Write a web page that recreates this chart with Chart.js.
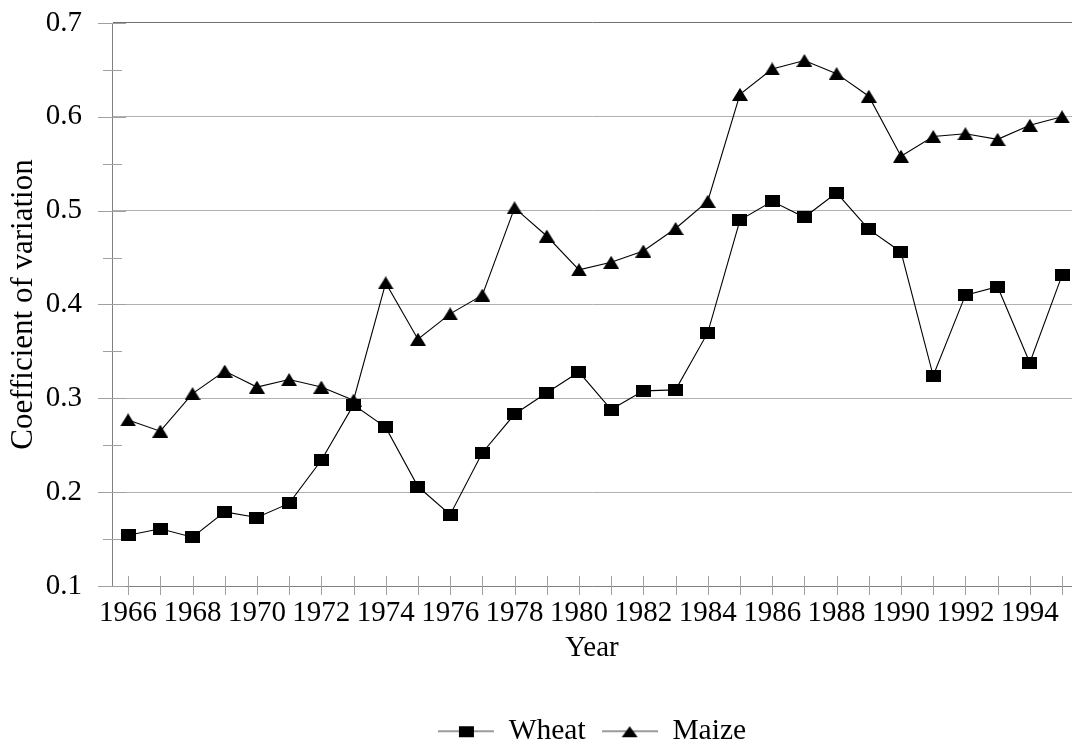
<!DOCTYPE html>
<html>
<head>
<meta charset="utf-8">
<script src="https://cdn.jsdelivr.net/npm/chart.js@4.4.1/dist/chart.umd.min.js"></script>
<style>
  html, body { margin: 0; padding: 0; background: #fff; overflow: hidden; }
  #wrap { position: relative; width: 1072px; height: 747px; }
</style>
</head>
<body>
<div id="wrap"><canvas id="c"></canvas></div>
<script>
const years = [1966,1967,1968,1969,1970,1971,1972,1973,1974,1975,1976,1977,1978,1979,1980,
               1981,1982,1983,1984,1985,1986,1987,1988,1989,1990,1991,1992,1993,1994,1995];
const wheat = [0.154,0.161,0.152,0.179,0.173,0.188,0.234,0.293,0.269,0.206,0.176,0.242,0.283,0.306,0.328,
               0.288,0.308,0.309,0.370,0.490,0.510,0.493,0.519,0.480,0.456,0.324,0.410,0.419,0.338,0.431];
const maize = [0.277,0.265,0.305,0.329,0.312,0.320,0.312,0.298,0.423,0.363,0.390,0.410,0.503,0.473,0.437,
               0.445,0.457,0.481,0.510,0.624,0.651,0.660,0.646,0.622,0.558,0.579,0.582,0.576,0.591,0.600];
const yTickLabels = ['0.1','0.2','0.3','0.4','0.5','0.6','0.7'];
const seriesNames = ['Wheat', 'Maize'];

const FONT = 'Liberation Serif, Times New Roman, serif';

function markerCanvas(kind) {
  const c = document.createElement('canvas');
  if (kind === 'square') { c.width = 15; c.height = 12; }
  else { c.width = 16; c.height = 13; }
  const g = c.getContext('2d');
  g.fillStyle = '#000';
  if (kind === 'square') {
    g.fillRect(0, 0, 15, 12);
  } else {
    g.beginPath(); g.moveTo(0, 13); g.lineTo(8, 0); g.lineTo(16, 13); g.closePath(); g.fill();
  }
  return c;
}
function legendCanvas(kind) {
  const c = document.createElement('canvas');
  c.width = 56; c.height = 16;
  const g = c.getContext('2d');
  g.strokeStyle = '#7a7a7a'; g.lineWidth = 1.5;
  g.beginPath(); g.moveTo(0, 8); g.lineTo(56, 8); g.stroke();
  g.fillStyle = '#000';
  if (kind === 'square') g.fillRect(21, 3, 15, 11);
  else { g.beginPath(); g.moveTo(20, 14); g.lineTo(28, 3); g.lineTo(36, 14); g.closePath(); g.fill(); }
  return c;
}
const sqMarker = markerCanvas('square');
const triMarker = markerCanvas('tri');
const legendImgs = [legendCanvas('square'), legendCanvas('tri')];

function zeroPad(scale) {
  scale.paddingTop = 0; scale.paddingBottom = 0;
  scale.paddingLeft = 0; scale.paddingRight = 0;
}

const crossTicks = {
  id: 'crossTicks',
  beforeDatasetsDraw(chart) {
    const ctx = chart.ctx;
    const xs = chart.scales.x, ys = chart.scales.y;
    ctx.save();
    ctx.strokeStyle = '#a0a0a0';
    ctx.lineWidth = 1;
    ys.ticks.forEach((t, i) => {
      const py = Math.round(ys.getPixelForTick(i)) + 0.5;
      const major = Math.round(t.value * 100) % 10 === 0;
      ctx.beginPath();
      ctx.moveTo(ys.right - (major ? 14 : 9), py);
      ctx.lineTo(ys.right + (major ? 14 : 10), py);
      ctx.stroke();
    });
    xs.ticks.forEach((t, i) => {
      const px = Math.round(xs.getPixelForTick(i)) + 0.5;
      ctx.beginPath();
      ctx.moveTo(px, xs.top - 10);
      ctx.lineTo(px, xs.top + 9);
      ctx.stroke();
    });
    ctx.restore();
  }
};

new Chart(document.getElementById('c'), {
  type: 'line',
  data: {
    datasets: [
      {
        label: seriesNames[0],
        data: years.map((yr, i) => ({ x: yr, y: wheat[i] })),
        borderColor: '#000', borderWidth: 1.1, pointStyle: sqMarker,
        pointRadius: 6, backgroundColor: '#000', tension: 0, clip: false
      },
      {
        label: seriesNames[1],
        data: years.map((yr, i) => ({ x: yr, y: maize[i] })),
        borderColor: '#000', borderWidth: 1.1, pointStyle: triMarker,
        pointRadius: 6, backgroundColor: '#000', tension: 0, clip: false
      }
    ]
  },
  options: {
    responsive: true,
    maintainAspectRatio: false,
    animation: false,
    layout: { autoPadding: false, padding: { top: 23, left: 0, right: 0, bottom: -9 } },
    plugins: {
      tooltip: { enabled: false },
      legend: {
        position: 'bottom',
        fullSize: false,
        labels: {
          usePointStyle: true,
          pointStyleWidth: 56,
          padding: 16,
          color: '#000',
          font: { family: FONT, size: 29.5 },
          generateLabels(chart) {
            return chart.data.datasets.map((ds, i) => ({
              text: ds.label, pointStyle: legendImgs[i], fillStyle: '#000',
              strokeStyle: '#000', lineWidth: 0, hidden: false, datasetIndex: i
            }));
          }
        }
      }
    },
    scales: {
      x: {
        type: 'linear',
        min: 1965.5,
        max: 1995.31,
        afterBuildTicks(scale) {
          scale.ticks = years.map(v => ({ value: v }));
        },
        afterFit(scale) { scale.height = 114.5; zeroPad(scale); },
        grid: { display: false, drawTicks: false },
        border: { display: true, color: '#808080', width: 1 },
        ticks: {
          autoSkip: false, maxRotation: 0, minRotation: 0, padding: 10,
          color: '#000', font: { family: FONT, size: 29 },
          callback(v) { return v % 2 === 0 ? String(v) : ''; }
        },
        title: {
          display: true, text: 'Year', color: '#000',
          font: { family: FONT, size: 29 },
          padding: { top: 0, bottom: 35 }
        }
      },
      y: {
        min: 0.1,
        max: 0.7,
        afterBuildTicks(scale) {
          const t = [];
          for (let k = 2; k <= 14; k++) t.push({ value: k * 0.05 });
          scale.ticks = t;
        },
        afterFit(scale) { scale.width = 112; zeroPad(scale); },
        grid: {
          drawTicks: false,
          color(ctx) {
            const v = Math.round(ctx.tick.value * 100);
            if (v % 10 !== 0) return 'rgba(0,0,0,0)';
            if (v === 70) return '#707070';
            return '#b0b0b0';
          }
        },
        border: { display: true, color: '#808080', width: 1 },
        ticks: {
          padding: 30, color: '#000', font: { family: FONT, size: 29 },
          callback(v) {
            const r = Math.round(v * 100);
            return r % 10 === 0 ? yTickLabels[r / 10 - 1] : '';
          }
        },
        title: {
          display: true, text: 'Coefficient of variation', color: '#000',
          font: { family: FONT, size: 31 },
          padding: { top: 5, bottom: 0 }
        }
      }
    }
  },
  plugins: [crossTicks]
});
</script>
</body>
</html>
